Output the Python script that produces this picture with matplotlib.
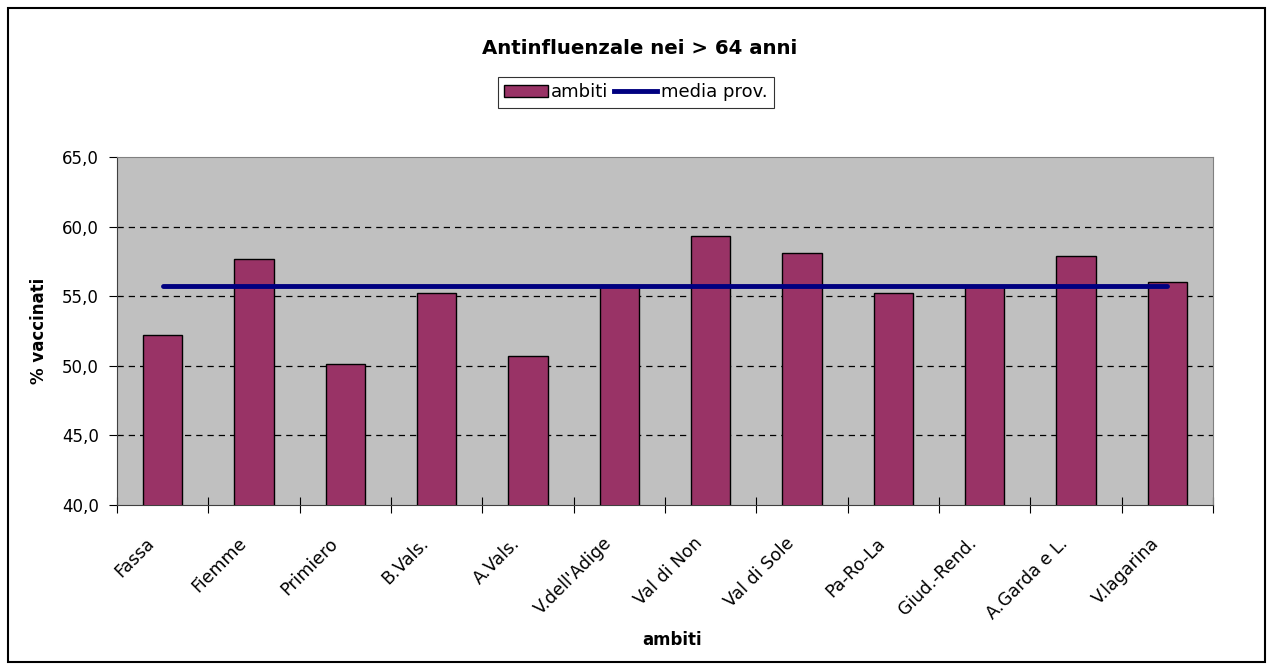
import matplotlib
matplotlib.use("Agg")
import matplotlib.pyplot as plt
from matplotlib.patches import Rectangle
from matplotlib.lines import Line2D
import matplotlib.transforms as mtransforms
import numpy as np

categories = ["Fassa", "Fiemme", "Primiero", "B.Vals.", "A.Vals.", "V.dell'Adige",
              "Val di Non", "Val di Sole", "Pa-Ro-La", "Giud.-Rend.", "A.Garda e L.", "V.lagarina"]
ambiti = [52.2, 57.7, 50.1, 55.2, 50.7, 55.8, 59.3, 58.1, 55.2, 55.7, 57.9, 56.0]
media_prov = [55.7] * len(categories)
yticks = [40, 45, 50, 55, 60, 65]

plt.rcParams['font.family'] = ['DejaVu Sans']

fig = plt.figure(figsize=(12.73, 6.70), dpi=100)
fig.patches.append(Rectangle((8/1273, 8/670), 1257/1273, 654/670, transform=fig.transFigure,
                             fill=False, edgecolor='black', linewidth=1.5, zorder=10))
ax = fig.add_axes([117/1273, 1-505/670, (1213-117)/1273, (505-157)/670])
ax.set_facecolor('#C0C0C0')
x = np.arange(len(categories))
ax.bar(x, ambiti, width=0.43, color='#993366', edgecolor='black', linewidth=1, zorder=3)
ax.plot(x, media_prov, color='#000080', linewidth=3.5, zorder=4, solid_capstyle='round')
ax.set_xlim(-0.5, len(categories)-0.5)
ax.set_ylim(40, 65)
ax.set_yticks(yticks)
ax.set_yticklabels([f"{v:.1f}".replace('.', ',') for v in yticks], fontsize=12)
for v in yticks[1:-1]:
    ax.axhline(v, color='black', linestyle=(0, (5, 4)), linewidth=0.9, zorder=2)
ax.set_xticks(x)
ax.set_xticklabels(categories, rotation=45, ha='right', va='top', fontsize=12.5, rotation_mode='anchor')
ax.tick_params(axis='x', length=0, pad=21)
offset = mtransforms.ScaledTranslation(-17/100, 0, fig.dpi_scale_trans)
for lbl in ax.get_xticklabels():
    lbl.set_transform(lbl.get_transform() + offset)
ax.set_xticks(np.arange(-0.5, len(categories)), minor=True)
ax.tick_params(axis='x', which='minor', length=12, direction='inout', width=0.8)
ax.tick_params(axis='y', length=6, width=0.8, direction='out', pad=7)
for s in ['left', 'bottom']:
    ax.spines[s].set_color('#404040')
for s in ['right', 'top']:
    ax.spines[s].set_color('#808080')
ax.set_ylabel('% vaccinati', fontsize=12, fontweight='bold', labelpad=10)
ax.set_xlabel('ambiti', fontsize=12, fontweight='bold', labelpad=10)
ax.xaxis.set_label_coords((672-117)/1096, -(631-505)/348)
fig.text(640/1273, 1-49/670, 'Antinfluenzale nei > 64 anni', ha='center', va='center',
         fontsize=14.2, fontweight='bold')
handles = [Rectangle((0, 0), 1, 1, facecolor='#993366', edgecolor='black'),
           Line2D([0], [0], color='#000080', linewidth=3.5)]
leg = fig.legend(handles, ['ambiti', 'media prov.'], loc='upper center', bbox_to_anchor=(636/1273, 1-77/670),
                 ncol=2, fontsize=13, frameon=True, fancybox=False, edgecolor='black',
                 handlelength=2.4, handletextpad=0.2, columnspacing=0.3, borderpad=0.35,
                 borderaxespad=0)
leg.get_frame().set_linewidth(0.8)
fig.savefig('out.png', dpi=100)
